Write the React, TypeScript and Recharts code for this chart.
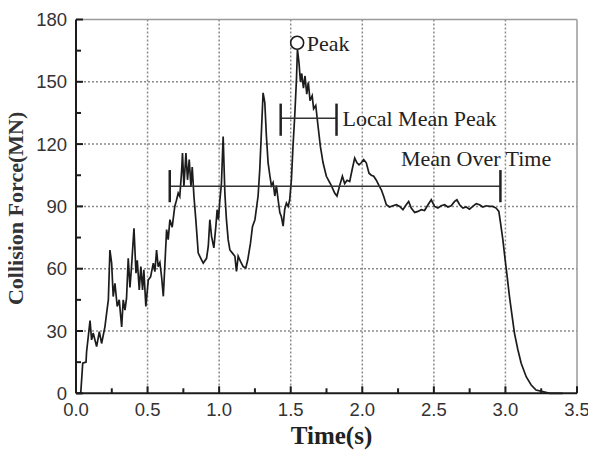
import { CartesianGrid, Label, Line, LineChart, ReferenceDot, ReferenceLine, XAxis, YAxis } from 'recharts'

const TIME = [
  0, 0.033, 0.047, 0.07, 0.074, 0.098, 0.109, 0.12, 0.144, 0.163, 0.179, 0.202, 0.214, 0.226, 0.237, 0.249,
  0.26, 0.272, 0.288, 0.302, 0.319, 0.33, 0.342, 0.353, 0.365, 0.377, 0.388, 0.405, 0.419, 0.428, 0.442, 0.453,
  0.465, 0.474, 0.488, 0.505, 0.521, 0.54, 0.551, 0.563, 0.574, 0.586, 0.598, 0.61, 0.633, 0.644, 0.656, 0.672,
  0.69, 0.702, 0.714, 0.725, 0.737, 0.744, 0.754, 0.768, 0.779, 0.791, 0.803, 0.812, 0.824, 0.837, 0.854, 0.877,
  0.889, 0.912, 0.924, 0.935, 0.947, 0.963, 0.977, 0.986, 0.995, 1.005, 1.016, 1.028, 1.04, 1.051, 1.063, 1.075,
  1.093, 1.11, 1.121, 1.133, 1.149, 1.168, 1.186, 1.2, 1.219, 1.233, 1.25, 1.272, 1.284, 1.296, 1.307, 1.319,
  1.33, 1.342, 1.354, 1.365, 1.377, 1.389, 1.4, 1.412, 1.424, 1.435, 1.447, 1.458, 1.47, 1.482, 1.493, 1.505,
  1.516, 1.528, 1.54, 1.547, 1.558, 1.568, 1.577, 1.589, 1.6, 1.612, 1.623, 1.635, 1.65, 1.66, 1.675, 1.691,
  1.707, 1.726, 1.749, 1.768, 1.784, 1.807, 1.823, 1.842, 1.861, 1.877, 1.894, 1.912, 1.93, 1.947, 1.963, 1.977,
  1.993, 2.01, 2.028, 2.047, 2.063, 2.08, 2.098, 2.117, 2.133, 2.15, 2.168, 2.191, 2.214, 2.238, 2.261, 2.284,
  2.307, 2.324, 2.342, 2.366, 2.389, 2.412, 2.435, 2.459, 2.482, 2.505, 2.528, 2.551, 2.575, 2.598, 2.621, 2.645,
  2.661, 2.68, 2.703, 2.726, 2.749, 2.772, 2.796, 2.819, 2.842, 2.866, 2.889, 2.912, 2.935, 2.954, 2.966, 2.982,
  2.998, 3.012, 3.028, 3.047, 3.063, 3.087, 3.11, 3.145, 3.18, 3.214, 3.261, 3.31, 3.4,
]

const FORCE = [
  0, 0, 14.5, 15, 20, 35, 25.7, 29, 22.5, 29.7, 24, 32, 38.6, 45, 69, 62.7,
  46.6, 53, 41.8, 45, 32, 45, 40, 45.8, 65, 51, 61, 79.5, 57.8, 64, 49.8, 61,
  49.8, 59.5, 41.8, 54.6, 56, 62.7, 58.6, 69, 61, 63, 56, 46.7, 78.8, 74, 83.6, 80,
  90, 93, 96.4, 94.8, 106, 115.7, 99.6, 115.7, 102.8, 112.5, 99.6, 109, 94.8, 83.6, 67.5, 64.3,
  62.7, 65, 70.7, 83.6, 75.6, 70, 80.4, 88.4, 83.6, 93, 101, 123.7, 96.4, 83.6, 74, 69,
  67.5, 66, 58.7, 66, 63.5, 61, 60.3, 64.3, 72.3, 80.4, 83.6, 95, 108, 127, 144.7, 140,
  124, 111, 105, 100, 101.5, 95, 100, 93.2, 87, 85, 80.5, 88.5, 91.6, 90, 93.2, 103,
  119, 133.5, 151, 165.6, 159, 150, 154, 147, 152.8, 144, 149.7, 140.9, 143.3, 137, 138.6, 128.6,
  119, 111, 104.5, 102, 100, 96.4, 95, 100, 104.5, 101, 102.6, 102, 108, 113.3, 111, 110,
  111, 112.5, 111, 106, 105, 104.5, 102.6, 100, 98, 94.8, 90.8, 89.7, 90.3, 90.8, 90, 88.4,
  90.8, 92.4, 89.2, 87.1, 87.6, 88.4, 88, 90.8, 93.2, 90, 89.2, 90.3, 90.8, 89.7, 90.3, 92.4,
  93.2, 90.8, 89.2, 89.7, 88.7, 90, 91.3, 90.8, 89.7, 90.3, 90, 90, 89.2, 87.6, 82, 74,
  64.3, 56.3, 46.7, 37, 29, 21, 14.5, 8, 4, 1.6, 0.8, 0, 0,
]

const X_TICKS = [0, 0.25, 0.5, 0.75, 1, 1.25, 1.5, 1.75, 2, 2.25, 2.5, 2.75, 3, 3.25, 3.5]
const X_MAJOR = [0, 0.5, 1, 1.5, 2, 2.5, 3, 3.5]
const Y_TICKS = [0, 15, 30, 45, 60, 75, 90, 105, 120, 135, 150, 165, 180]
const Y_MAJOR = [0, 30, 60, 90, 120, 150, 180]

// annotation values (data units)
const PEAK = { t: 1.545, f: 168.8 }
const LOCAL_MEAN = { from: 1.43, to: 1.82, f: 132.5, lo: 124, hi: 139.5 }
const MEAN_TIME = { from: 0.655, to: 2.965, f: 99.7, lo: 92, hi: 107.5 }
const MEAN_LABEL = { t: 2.27, f: 113 }

const data = TIME.map((t, i) => ({ t, f: FORCE[i] }))

const SERIF = '"Liberation Serif", "Times New Roman", serif'
const SANS = '"Liberation Sans", Arial, sans-serif'
const INK = '#1c1c1c'

function XTick({ x, y, payload }: any) {
  const major = X_MAJOR.includes(payload.value)
  return (
    <g>
      <line x1={x} y1={y} x2={x} y2={y - (major ? 7 : 5)} stroke={INK} strokeWidth={2} />
      {major && (
        <text x={x} y={y + 23} textAnchor="middle" fontFamily={SANS} fontSize={18.5} fill="#333">
          {payload.value.toFixed(1)}
        </text>
      )}
    </g>
  )
}

function YTick({ x, y, payload }: any) {
  const major = Y_MAJOR.includes(payload.value)
  return (
    <g>
      <line x1={x} y1={y} x2={x + (major ? 7 : 5)} y2={y} stroke={INK} strokeWidth={2} />
      {major && (
        <text x={x - 9} y={y + 6.5} textAnchor="end" fontFamily={SANS} fontSize={18.5} fill="#333">
          {payload.value}
        </text>
      )}
    </g>
  )
}

const annoText = { fontFamily: SERIF, fontSize: 22, fill: '#222' }

export default function App() {
  return (
    <div style={{ position: 'relative', left: -8, top: -8, width: 596, height: 450, background: '#fff' }}>
      <LineChart width={596} height={450} data={data} margin={{ top: 19.5, right: 19, left: 0, bottom: 0 }}>
        <CartesianGrid
          stroke="#8a8a8a"
          strokeWidth={1.5}
          strokeDasharray="2 2"
          horizontalValues={[30, 60, 90, 120, 150]}
          verticalValues={[0.5, 1, 1.5, 2, 2.5, 3]}
        />
        <XAxis
          dataKey="t"
          type="number"
          domain={[0, 3.5]}
          ticks={X_TICKS}
          interval={0}
          height={56.7}
          tickSize={0}
          tickMargin={0}
          tickLine={false}
          tick={<XTick />}
          axisLine={{ stroke: INK, strokeWidth: 2 }}
          label={({ viewBox }: any) => (
            <text
              x={viewBox.x + viewBox.width / 2 + 5}
              y={viewBox.y + 50.5}
              textAnchor="middle"
              fontFamily={SERIF}
              fontWeight="bold"
              fontSize={25}
              fill="#222"
            >
              Time(s)
            </text>
          )}
        />
        <YAxis
          type="number"
          domain={[0, 180]}
          ticks={Y_TICKS}
          interval={0}
          width={76}
          tickSize={0}
          tickMargin={0}
          tickLine={false}
          tick={<YTick />}
          axisLine={{ stroke: INK, strokeWidth: 2 }}
          label={({ viewBox }: any) => {
            const cx = 16
            const cy = viewBox.y + viewBox.height / 2 + 2
            return (
              <text
                x={cx}
                y={cy}
                transform={`rotate(-90 ${cx} ${cy})`}
                textAnchor="middle"
                dominantBaseline="central"
                fontFamily={SERIF}
                fontWeight="bold"
                fontSize={22}
                fill="#333"
              >
                Collision Force(MN)
              </text>
            )
          }}
        />
        <ReferenceLine y={180} stroke="#9a9a9a" strokeWidth={1.5} />
        <ReferenceLine x={3.5} stroke="#9a9a9a" strokeWidth={1.5} />
        <Line
          dataKey="f"
          type="linear"
          stroke={INK}
          strokeWidth={1.7}
          dot={false}
          isAnimationActive={false}
        />
        <ReferenceLine
          segment={[{ x: MEAN_TIME.from, y: MEAN_TIME.f }, { x: MEAN_TIME.to, y: MEAN_TIME.f }]}
          stroke="#333"
          strokeWidth={1.5}
        />
        <ReferenceLine
          segment={[{ x: MEAN_TIME.from, y: MEAN_TIME.lo }, { x: MEAN_TIME.from, y: MEAN_TIME.hi }]}
          stroke="#222"
          strokeWidth={2.5}
        />
        <ReferenceLine
          segment={[{ x: MEAN_TIME.to, y: MEAN_TIME.lo }, { x: MEAN_TIME.to, y: MEAN_TIME.hi }]}
          stroke="#222"
          strokeWidth={2.5}
        />
        <ReferenceLine
          segment={[{ x: LOCAL_MEAN.from, y: LOCAL_MEAN.f }, { x: LOCAL_MEAN.to, y: LOCAL_MEAN.f }]}
          stroke="#333"
          strokeWidth={1.5}
        />
        <ReferenceLine
          segment={[{ x: LOCAL_MEAN.from, y: LOCAL_MEAN.lo }, { x: LOCAL_MEAN.from, y: LOCAL_MEAN.hi }]}
          stroke="#222"
          strokeWidth={2.5}
        />
        <ReferenceLine
          segment={[{ x: LOCAL_MEAN.to, y: LOCAL_MEAN.lo }, { x: LOCAL_MEAN.to, y: LOCAL_MEAN.hi }]}
          stroke="#222"
          strokeWidth={2.5}
        />
        <ReferenceDot x={PEAK.t} y={PEAK.f} r={6.5} fill="#fff" stroke={INK} strokeWidth={1.6}>
          <Label value="Peak" position="right" offset={3} {...annoText} />
        </ReferenceDot>
        <ReferenceDot x={LOCAL_MEAN.to} y={LOCAL_MEAN.f} r={0} fill="none" stroke="none">
          <Label value="Local Mean Peak" position="right" offset={6} {...annoText} />
        </ReferenceDot>
        <ReferenceDot x={MEAN_LABEL.t} y={MEAN_LABEL.f} r={0} fill="none" stroke="none">
          <Label value="Mean Over Time" position="right" offset={0} {...annoText} />
        </ReferenceDot>
      </LineChart>
    </div>
  )
}
